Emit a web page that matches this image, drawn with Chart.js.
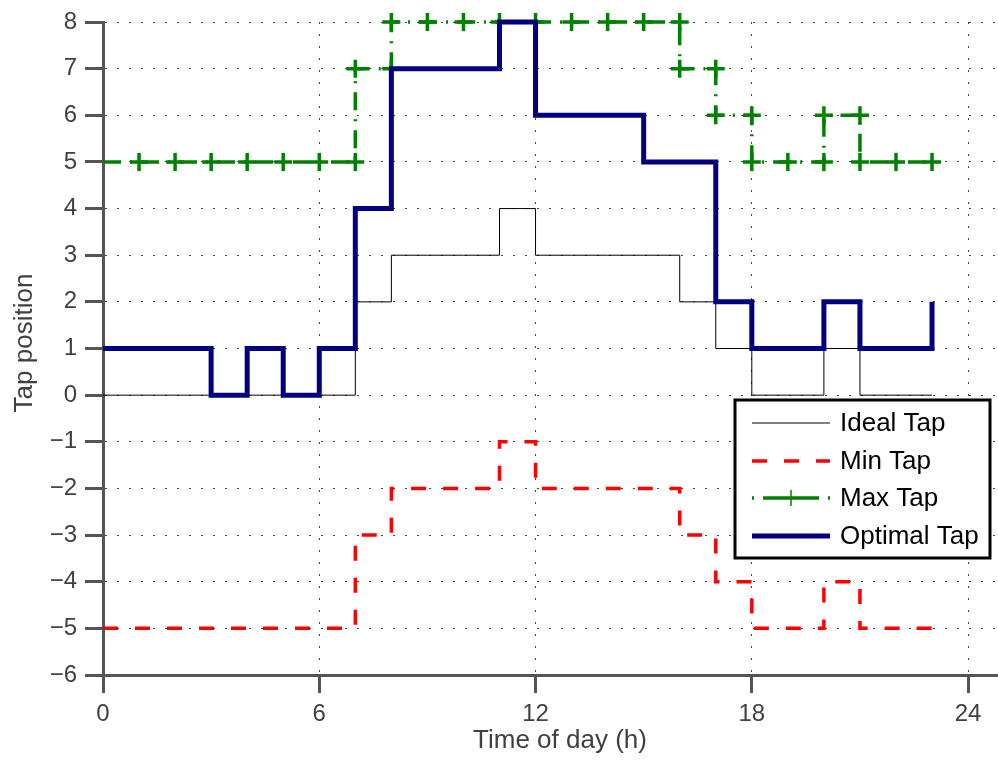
<!DOCTYPE html>
<html>
<head>
<meta charset="utf-8">
<title>Tap position</title>
<script src="https://cdn.jsdelivr.net/npm/chart.js@4.4.1/dist/chart.umd.min.js"></script>
<style>
  html, body { margin: 0; padding: 0; background: #fff; overflow: hidden; }
  canvas { display: block; }
</style>
</head>
<body>
<canvas id="tapChart" width="998" height="762"></canvas>
<script>
// --- data (one value per hour, drawn as stairs) ---
const hours = [0, 1, 2, 3, 4, 5, 6, 7, 8, 9, 10, 11, 12, 13, 14, 15, 16, 17, 18, 19, 20, 21, 22, 23];
const idealTap   = [0, 0, 0, 0, 0, 0, 0, 2, 3, 3, 3, 4, 3, 3, 3, 3, 2, 1, 0, 0, 1, 0, 0, 0];
const minTap     = [-5, -5, -5, -5, -5, -5, -5, -3, -2, -2, -2, -1, -2, -2, -2, -2, -3, -4, -5, -5, -4, -5, -5, -5];
const maxTap     = [5, 5, 5, 5, 5, 5, 5, 7, 8, 8, 8, 8, 8, 8, 8, 8, 7, 6, 5, 5, 6, 5, 5, 5];
const optimalTap = [1, 1, 1, 0, 1, 0, 1, 4, 7, 7, 7, 8, 6, 6, 6, 5, 5, 2, 1, 1, 2, 1, 1, 2];

const xTicks = [0, 6, 12, 18, 24];
const yTicks = [-6, -5, -4, -3, -2, -1, 0, 1, 2, 3, 4, 5, 6, 7, 8];
const seriesNames = ['Ideal Tap', 'Min Tap', 'Max Tap', 'Optimal Tap'];
const xTitle = 'Time of day (h)';
const yTitle = 'Tap position';

const FONT = '"Liberation Sans", Arial, Helvetica, sans-serif';
const AXIS_GREY = '#555555';
const TEXT_GREY = '#404040';

const toPoints = ys => hours.map((h, i) => ({ x: h, y: ys[i] }));

// old-style stairs put a marker on every corner of the step line
const maxCorners = [];
for (let i = 1; i < hours.length; i++) {
    maxCorners.push({ x: hours[i], y: maxTap[i - 1] });
    if (maxTap[i] !== maxTap[i - 1]) maxCorners.push({ x: hours[i], y: maxTap[i] });
}

const stairs = {
    stepped: true,
    pointRadius: 0,
    fill: false,
    borderCapStyle: 'butt',
    borderJoinStyle: 'miter',
    clip: 8
};

const datasets = [
    { ...stairs, label: seriesNames[0], data: toPoints(idealTap), borderColor: '#000000', borderWidth: 1, order: 4 },
    { ...stairs, label: seriesNames[1], data: toPoints(minTap), borderColor: '#ff0000', borderWidth: 3.5, borderDash: [15, 17], order: 3 },
    { ...stairs, label: seriesNames[2], data: toPoints(maxTap), borderColor: '#008000', borderWidth: 3.5, borderDash: [18, 9, 2, 9], order: 2.5 },
    { label: 'max-markers', data: maxCorners, showLine: false, pointStyle: 'cross', pointRadius: 9,
      pointBorderWidth: 3.5, pointBorderColor: '#008000', pointBackgroundColor: '#008000', order: 2, clip: 12 },
    { ...stairs, label: seriesNames[3], data: toPoints(optimalTap), borderColor: '#000080', borderWidth: 5, order: 1 }
];

// --- boxed legend inside the axes, lower right ---
const boxLegend = {
    id: 'boxLegend',
    afterDraw(chart) {
        const { ctx, chartArea } = chart;
        const w = 255, h = 158;
        const left = chartArea.right - 263;
        const top = chartArea.top + 378;
        ctx.save();
        ctx.fillStyle = '#ffffff';
        ctx.fillRect(left, top, w, h);
        ctx.lineWidth = 3;
        ctx.strokeStyle = '#000000';
        ctx.strokeRect(left, top, w, h);

        const rows = [23, 61, 98, 136];
        const entries = [datasets[0], datasets[1], datasets[2], datasets[4]];
        entries.forEach((ds, i) => {
            const y = top + rows[i];
            const x0 = left + 17, x1 = left + 95;
            ctx.beginPath();
            ctx.lineWidth = ds.borderWidth;
            ctx.strokeStyle = ds.borderColor;
            ctx.lineCap = 'butt';
            ctx.setLineDash(i === 2 ? [2, 9, 56, 9] : (ds.borderDash || []));
            ctx.moveTo(x0, y);
            ctx.lineTo(x1, y);
            ctx.stroke();
            ctx.setLineDash([]);
            if (i === 2) {
                const cx = (x0 + x1) / 2;
                ctx.lineWidth = 1.5;
                ctx.beginPath();
                ctx.moveTo(cx - 8, y); ctx.lineTo(cx + 8, y);
                ctx.moveTo(cx, y - 8); ctx.lineTo(cx, y + 8);
                ctx.stroke();
            }
            ctx.fillStyle = '#000000';
            ctx.font = '26px ' + FONT;
            ctx.textAlign = 'left';
            ctx.textBaseline = 'middle';
            ctx.fillText(ds.label, left + 105, y + 1);
        });
        ctx.restore();
    }
};

// --- axis titles, placed like the original figure ---
const axisTitles = {
    id: 'axisTitles',
    afterDraw(chart) {
        const { ctx } = chart;
        ctx.save();
        ctx.fillStyle = TEXT_GREY;
        ctx.font = '26px ' + FONT;
        ctx.textAlign = 'center';
        ctx.textBaseline = 'alphabetic';
        ctx.fillText(xTitle, 560, 748);
        ctx.translate(32, 343);
        ctx.rotate(-Math.PI / 2);
        ctx.fillText(yTitle, 0, 0);
        ctx.restore();
    }
};

const gridStyle = {
    color: '#444444',
    lineWidth: 1,
    tickColor: AXIS_GREY,
    tickWidth: 3,
    tickLength: 18,
    tickBorderDash: []
};
const borderStyle = { color: AXIS_GREY, width: 3, dash: [2, 10] };

new Chart(document.getElementById('tapChart'), {
    type: 'line',
    data: { datasets },
    options: {
        responsive: false,
        animation: false,
        layout: { autoPadding: false, padding: { top: 22, right: 0, left: 0, bottom: 0 } },
        plugins: { legend: { display: false }, tooltip: { enabled: false } },
        scales: {
            x: {
                type: 'linear',
                min: 0,
                max: 24.83,
                afterBuildTicks: s => { s.ticks = xTicks.map(v => ({ value: v })); },
                afterFit: s => { s.height = 87; s.paddingLeft = 0; s.paddingRight = 0; },
                ticks: { font: { family: FONT, size: 24 }, color: TEXT_GREY, padding: 7, maxRotation: 0 },
                grid: gridStyle,
                border: borderStyle
            },
            y: {
                type: 'linear',
                min: -6,
                max: 8,
                afterBuildTicks: s => { s.ticks = yTicks.map(v => ({ value: v })); },
                afterFit: s => { s.width = 103; s.paddingTop = 0; s.paddingBottom = 0; },
                ticks: {
                    font: { family: FONT, size: 24 },
                    color: TEXT_GREY,
                    padding: 8,
                    callback: v => String(v).replace('-', '\u2212')
                },
                grid: gridStyle,
                border: borderStyle
            }
        }
    },
    plugins: [boxLegend, axisTitles]
});
</script>
</body>
</html>
